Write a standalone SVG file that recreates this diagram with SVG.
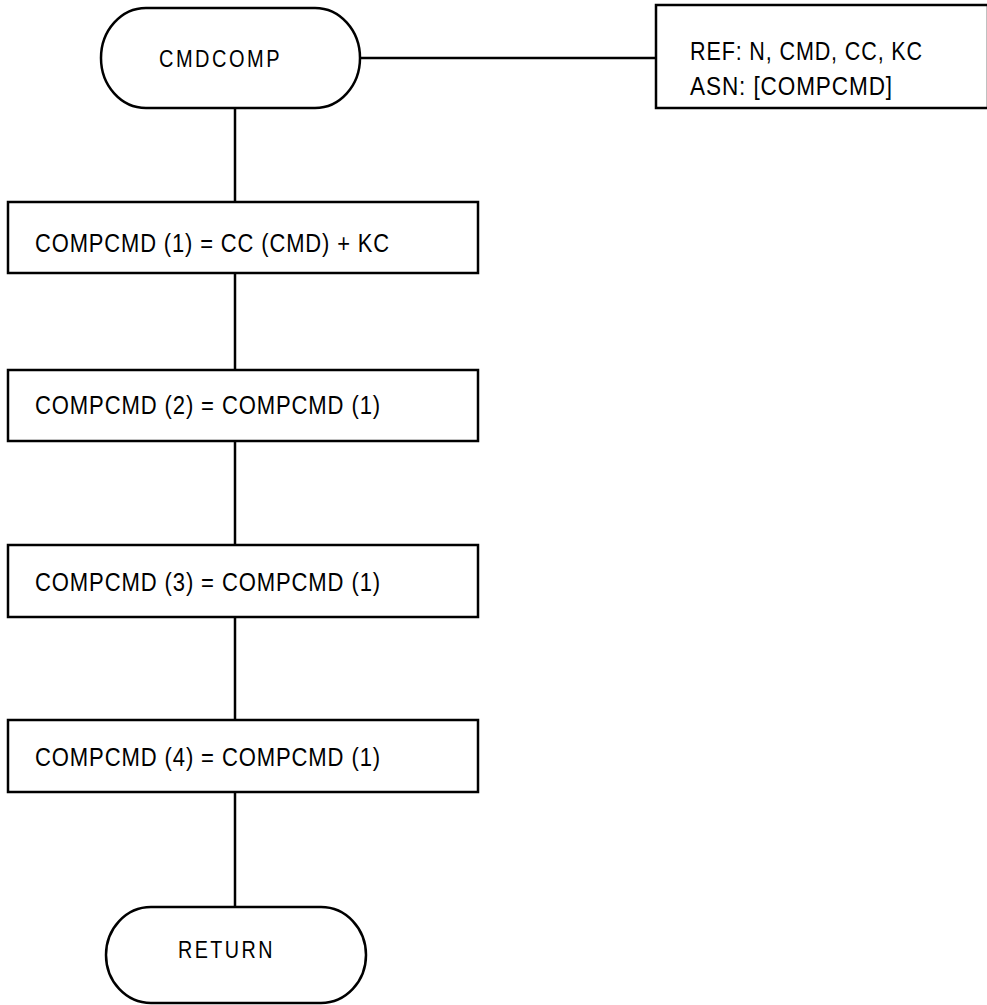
<svg xmlns="http://www.w3.org/2000/svg" width="987" height="1005" viewBox="0 0 987 1005">
<style>
.shape{fill:#fff;stroke:#000;stroke-width:2.5}
.conn{fill:none;stroke:#000;stroke-width:2.5}
.t{font-family:"Liberation Sans",Arial,sans-serif;font-size:25px;letter-spacing:1px;fill:#000}
.term{font-family:"Liberation Sans",Arial,sans-serif;font-size:24px;letter-spacing:3px;fill:#000}
</style>
<rect width="987" height="1005" fill="#fff"/>
<g id="connectors">
<line class="conn" x1="360" y1="58" x2="656" y2="58"/>
<line class="conn" x1="235" y1="108" x2="235" y2="202"/>
<line class="conn" x1="235" y1="273" x2="235" y2="370"/>
<line class="conn" x1="235" y1="441" x2="235" y2="545"/>
<line class="conn" x1="235" y1="617" x2="235" y2="720"/>
<line class="conn" x1="235" y1="792" x2="235" y2="907"/>
</g>
<g id="start">
<rect class="shape" x="101" y="8" width="259" height="100" rx="45" ry="50"/>
<text class="term" x="159" y="67" textLength="123" lengthAdjust="spacingAndGlyphs">CMDCOMP</text>
</g>
<g id="note">
<rect class="shape" x="656" y="5" width="332" height="103"/>
<text class="t" x="690" y="60" textLength="233" lengthAdjust="spacingAndGlyphs">REF: N, CMD, CC, KC</text>
<text class="t" x="690" y="95" textLength="203" lengthAdjust="spacingAndGlyphs">ASN: [COMPCMD]</text>
</g>
<g id="step1">
<rect class="shape" x="8" y="202" width="470" height="71"/>
<text class="t" x="35" y="252" textLength="355" lengthAdjust="spacingAndGlyphs">COMPCMD (1) = CC (CMD) + KC</text>
</g>
<g id="step2">
<rect class="shape" x="8" y="370" width="470" height="71"/>
<text class="t" x="35" y="414" textLength="346" lengthAdjust="spacingAndGlyphs">COMPCMD (2) = COMPCMD (1)</text>
</g>
<g id="step3">
<rect class="shape" x="8" y="545" width="470" height="72"/>
<text class="t" x="35" y="591" textLength="346" lengthAdjust="spacingAndGlyphs">COMPCMD (3) = COMPCMD (1)</text>
</g>
<g id="step4">
<rect class="shape" x="8" y="720" width="470" height="72"/>
<text class="t" x="35" y="766" textLength="346" lengthAdjust="spacingAndGlyphs">COMPCMD (4) = COMPCMD (1)</text>
</g>
<g id="end">
<rect class="shape" x="106" y="907" width="260" height="96" rx="45" ry="48"/>
<text class="term" x="178" y="958" textLength="97" lengthAdjust="spacingAndGlyphs">RETURN</text>
</g>
</svg>
